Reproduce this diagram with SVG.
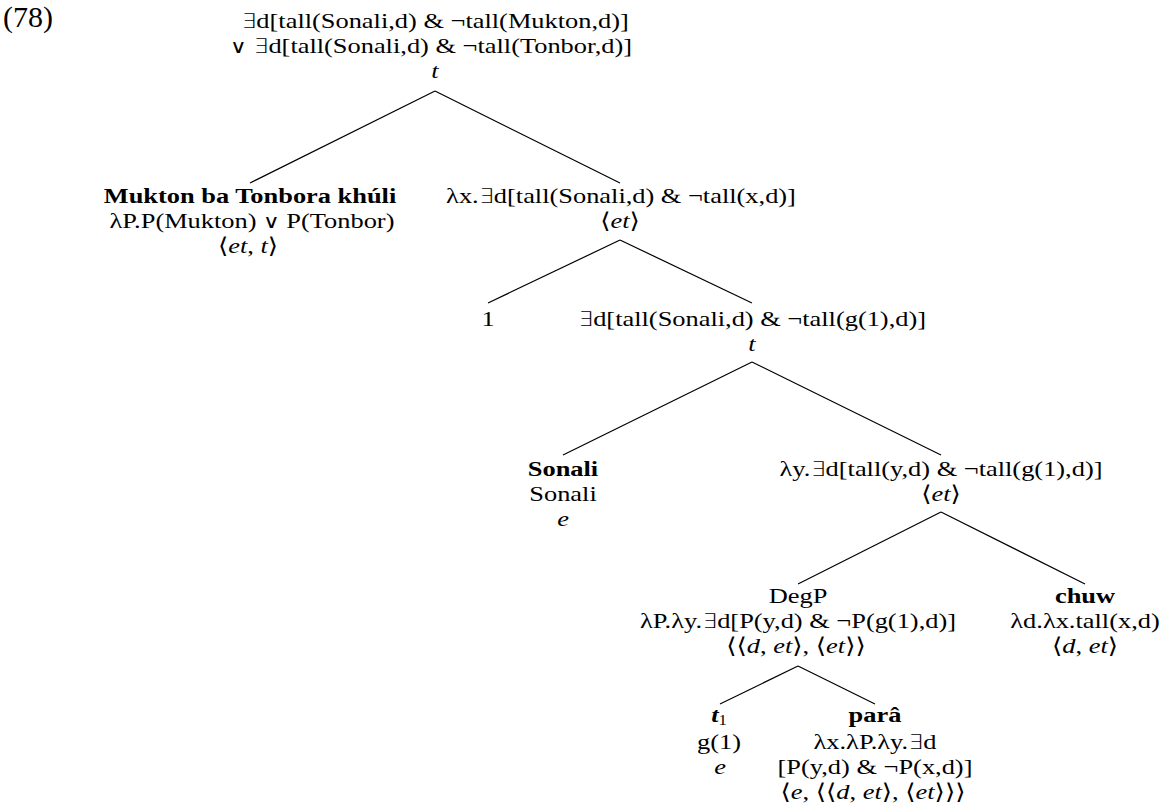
<svg xmlns="http://www.w3.org/2000/svg" width="1167" height="812" viewBox="0 0 1167 812">
<style>
text{font-family:"Liberation Serif","DejaVu Serif",serif;font-size:22px;fill:#000;text-anchor:middle}
.b{font-weight:bold}
.i{font-style:italic}
.s{font-family:"DejaVu Sans",sans-serif;font-weight:200;font-size:20px}
.v{font-family:"DejaVu Sans",sans-serif;font-weight:normal;font-size:19px}
.num{font-size:30px;text-anchor:start}
#edges line{stroke:#000;stroke-width:1.2}
</style>
<rect width="1167" height="812" fill="#fff"/>
<text class="num" x="3" y="27">(78)</text>
<g id="edges">
<line x1="435" y1="91" x2="250" y2="183"/>
<line x1="435" y1="91" x2="620" y2="183"/>
<line x1="620" y1="240" x2="488" y2="303"/>
<line x1="620" y1="240" x2="752" y2="303"/>
<line x1="752" y1="362" x2="563" y2="455"/>
<line x1="752" y1="362" x2="941" y2="455"/>
<line x1="941" y1="512" x2="798" y2="584"/>
<line x1="941" y1="512" x2="1085" y2="584"/>
<line x1="798" y1="666" x2="720" y2="704"/>
<line x1="798" y1="666" x2="875" y2="704"/>
</g>
<g id="root">
<text transform="translate(435,28) scale(1.2,1)"><tspan class="s">∃</tspan>d[tall(Sonali,d) &amp; ¬tall(Mukton,d)]</text>
<text transform="translate(431,53) scale(1.2,1)"><tspan class="v">∨</tspan> <tspan class="s">∃</tspan>d[tall(Sonali,d) &amp; ¬tall(Tonbor,d)]</text>
<text transform="translate(435,78) scale(1.2,1)" class="i">t</text>
</g>
<g id="nodeA">
<text transform="translate(250,203) scale(1.2,1)" class="b">Mukton ba Tonbora khúli</text>
<text transform="translate(252,228) scale(1.2,1)">λP.P(Mukton) <tspan class="v">∨</tspan> P(Tonbor)</text>
<text transform="translate(248,253) scale(1.2,1)">⟨<tspan class="i">et</tspan>, <tspan class="i">t</tspan>⟩</text>
</g>
<g id="nodeB">
<text transform="translate(621,203) scale(1.2,1)">λx.<tspan class="s">∃</tspan>d[tall(Sonali,d) &amp; ¬tall(x,d)]</text>
<text transform="translate(620,228) scale(1.2,1)">⟨<tspan class="i">et</tspan>⟩</text>
</g>
<g id="node1">
<text transform="translate(488,326) scale(1.2,1)">1</text>
</g>
<g id="nodeC">
<text transform="translate(752,326) scale(1.2,1)"><tspan class="s">∃</tspan>d[tall(Sonali,d) &amp; ¬tall(g(1),d)]</text>
<text transform="translate(752,351) scale(1.2,1)" class="i">t</text>
</g>
<g id="nodeSonali">
<text transform="translate(563,476) scale(1.2,1)" class="b">Sonali</text>
<text transform="translate(563,501) scale(1.2,1)">Sonali</text>
<text transform="translate(563,526) scale(1.2,1)" class="i">e</text>
</g>
<g id="nodeD">
<text transform="translate(941,476) scale(1.2,1)">λy.<tspan class="s">∃</tspan>d[tall(y,d) &amp; ¬tall(g(1),d)]</text>
<text transform="translate(941,501) scale(1.2,1)">⟨<tspan class="i">et</tspan>⟩</text>
</g>
<g id="nodeDegP">
<text transform="translate(798,603) scale(1.2,1)">DegP</text>
<text transform="translate(798,628) scale(1.2,1)">λP.λy.<tspan class="s">∃</tspan>d[P(y,d) &amp; ¬P(g(1),d)]</text>
<text transform="translate(796,653) scale(1.2,1)">⟨⟨<tspan class="i">d</tspan>, <tspan class="i">et</tspan>⟩, ⟨<tspan class="i">et</tspan>⟩⟩</text>
</g>
<g id="nodeChuw">
<text transform="translate(1085,603) scale(1.2,1)" class="b">chuw</text>
<text transform="translate(1085,628) scale(1.2,1)">λd.λx.tall(x,d)</text>
<text transform="translate(1085,653) scale(1.2,1)">⟨<tspan class="i">d</tspan>, <tspan class="i">et</tspan>⟩</text>
</g>
<g id="nodeT1">
<text transform="translate(719,722) scale(1.2,1)"><tspan class="b i">t</tspan><tspan font-size="14" dy="3">1</tspan></text>
<text transform="translate(719,749) scale(1.2,1)">g(1)</text>
<text transform="translate(720,774) scale(1.2,1)" class="i">e</text>
</g>
<g id="nodePara">
<text transform="translate(875,722) scale(1.2,1)" class="b">parâ</text>
<text transform="translate(875,749) scale(1.2,1)">λx.λP.λy.<tspan class="s">∃</tspan>d</text>
<text transform="translate(875,774) scale(1.2,1)">[P(y,d) &amp; ¬P(x,d)]</text>
<text transform="translate(873,799) scale(1.2,1)">⟨<tspan class="i">e</tspan>, ⟨⟨<tspan class="i">d</tspan>, <tspan class="i">et</tspan>⟩, ⟨<tspan class="i">et</tspan>⟩⟩⟩</text>
</g>
</svg>
